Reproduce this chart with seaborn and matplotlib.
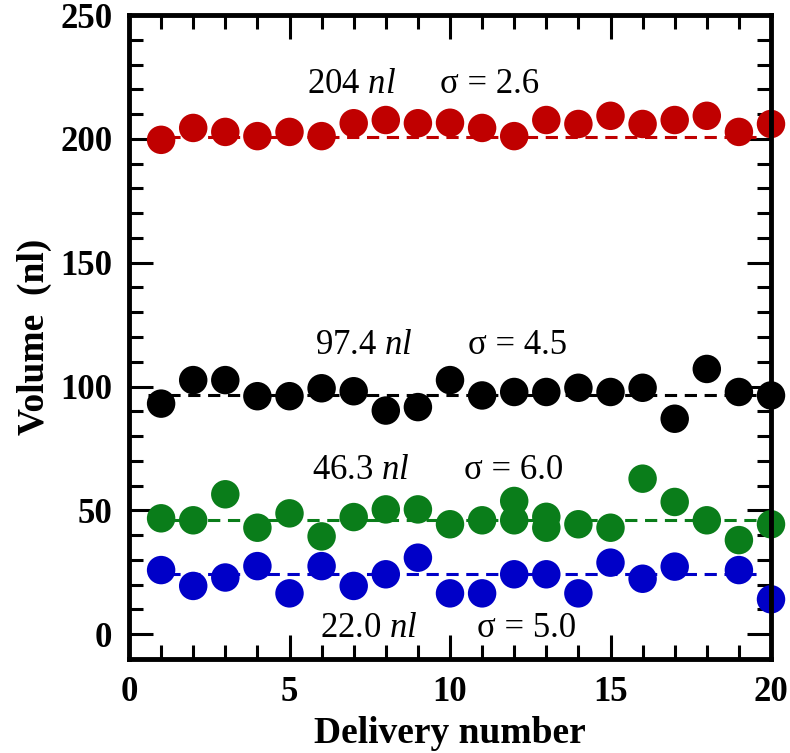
import numpy as np
import pandas as pd
import matplotlib
matplotlib.use("Agg")
import matplotlib.pyplot as plt
import seaborn as sns

# Values
deliveries = list(range(1, 21))

red_x = deliveries
red_vol = [199.6, 204.4, 202.8, 201.1, 202.8, 201.1, 206.3, 207.6, 206.3, 206.5,
           204.4, 201.1, 207.6, 206.0, 209.3, 206.0, 207.6, 209.3, 202.8, 206.0]

black_x = deliveries
black_vol = [93.1, 102.6, 102.6, 96.1, 96.1, 99.3, 98.1, 90.3, 91.7, 102.6,
             96.4, 97.8, 97.8, 99.5, 97.8, 99.5, 87.0, 107.1, 97.8, 96.4]

# deliveries 12 and 13 show two green points each
green_x = [1, 2, 3, 4, 5, 6, 7, 8, 9, 10, 11, 12, 12, 13, 13, 14, 15, 16, 17, 18, 19, 20]
green_vol = [46.8, 46.0, 56.5, 43.0, 48.8, 39.5, 47.3, 50.4, 50.4, 44.4, 46.0,
             53.8, 46.0, 47.4, 43.0, 44.4, 43.0, 62.8, 53.4, 46.0, 38.0, 44.4]

# no blue point visible at delivery 18
blue_x = [1, 2, 3, 4, 5, 6, 7, 8, 9, 10, 11, 12, 13, 14, 15, 16, 17, 19, 20]
blue_vol = [25.9, 19.5, 22.9, 27.5, 16.5, 27.5, 19.5, 24.2, 30.9, 16.5,
            16.5, 24.2, 24.2, 16.5, 28.9, 22.4, 27.3, 25.9, 14.1]

series = ["red", "black", "green", "blue"]
mean_line = [200.9, 96.4, 46.0, 24.5]
mean_text = ["204", "97.4", "46.3", "22.0"]
sigma_text = ["2.6", "4.5", "6.0", "5.0"]

colors = {"red": "#c00000", "black": "#000000", "green": "#0a7d1a", "blue": "#0000c8"}

# annotation placement (x of number, x of sigma, y)
text_pos = [(5.55, 9.7, 221.8), (5.8, 10.55, 116.5), (5.7, 10.45, 66.0), (5.95, 10.85, 2.5)]

frames = []
for name, xs, vs in zip(series, [red_x, black_x, green_x, blue_x],
                        [red_vol, black_vol, green_vol, blue_vol]):
    frames.append(pd.DataFrame({"Delivery": xs, "Volume": vs, "Series": name}))
df = pd.concat(frames, ignore_index=True)

sns.set_style("ticks")
plt.rcParams["font.family"] = ["Liberation Serif", "DejaVu Serif"]
plt.rcParams["mathtext.fontset"] = "custom"
plt.rcParams["mathtext.rm"] = "Liberation Serif"
plt.rcParams["mathtext.it"] = "Liberation Serif:italic"
for key in ["text.color", "axes.labelcolor", "xtick.color", "ytick.color", "axes.edgecolor"]:
    plt.rcParams[key] = "black"

fig, ax = plt.subplots(figsize=(7.9, 7.53), dpi=100)
fig.subplots_adjust(left=129 / 790, right=771 / 790, top=1 - 15 / 753, bottom=1 - 659 / 753)

# dashed mean lines behind the markers
x0, x1 = min(deliveries) - 0.4, max(deliveries) - 0.25
for name, m in zip(series, mean_line):
    ax.hlines(m, x0, x1, colors=colors[name], linestyles=(0, (4, 2.5)),
              linewidth=2.2, zorder=1)

sns.scatterplot(data=df, x="Delivery", y="Volume", hue="Series", palette=colors,
                hue_order=series, s=420, linewidth=0, legend=False, ax=ax,
                zorder=2, clip_on=False)

for (xn, xs, yt), mt, st in zip(text_pos, mean_text, sigma_text):
    ax.text(xn, yt, mt + r" $\mathit{nl}$", ha="left", va="center", fontsize=25)
    ax.text(xs, yt, "\u03c3 = " + st, ha="left", va="center", fontsize=25)

ax.set_xlim(0, 20)
ax.set_ylim(-10, 250)
ax.set_xticks([0, 5, 10, 15, 20])
ax.set_xticks(np.arange(0, 21, 1), minor=True)
ax.set_yticks([0, 50, 100, 150, 200, 250])
ax.set_yticks(np.arange(-10, 251, 10), minor=True)

ax.tick_params(which="both", direction="in", top=True, right=True, width=2.2)
ax.tick_params(which="major", length=17, pad=12, labelsize=25)
ax.tick_params(which="minor", length=10)
for lab in ax.get_xticklabels() + ax.get_yticklabels():
    lab.set_fontweight("bold")
for sp in ax.spines.values():
    sp.set_linewidth(3.5)
    sp.set_visible(True)

ax.set_xlabel("Delivery number", fontsize=27, fontweight="bold", labelpad=5)
ax.set_ylabel("Volume  (nl)", fontsize=27, fontweight="bold", labelpad=6)

fig.savefig("out.png", dpi=100)
